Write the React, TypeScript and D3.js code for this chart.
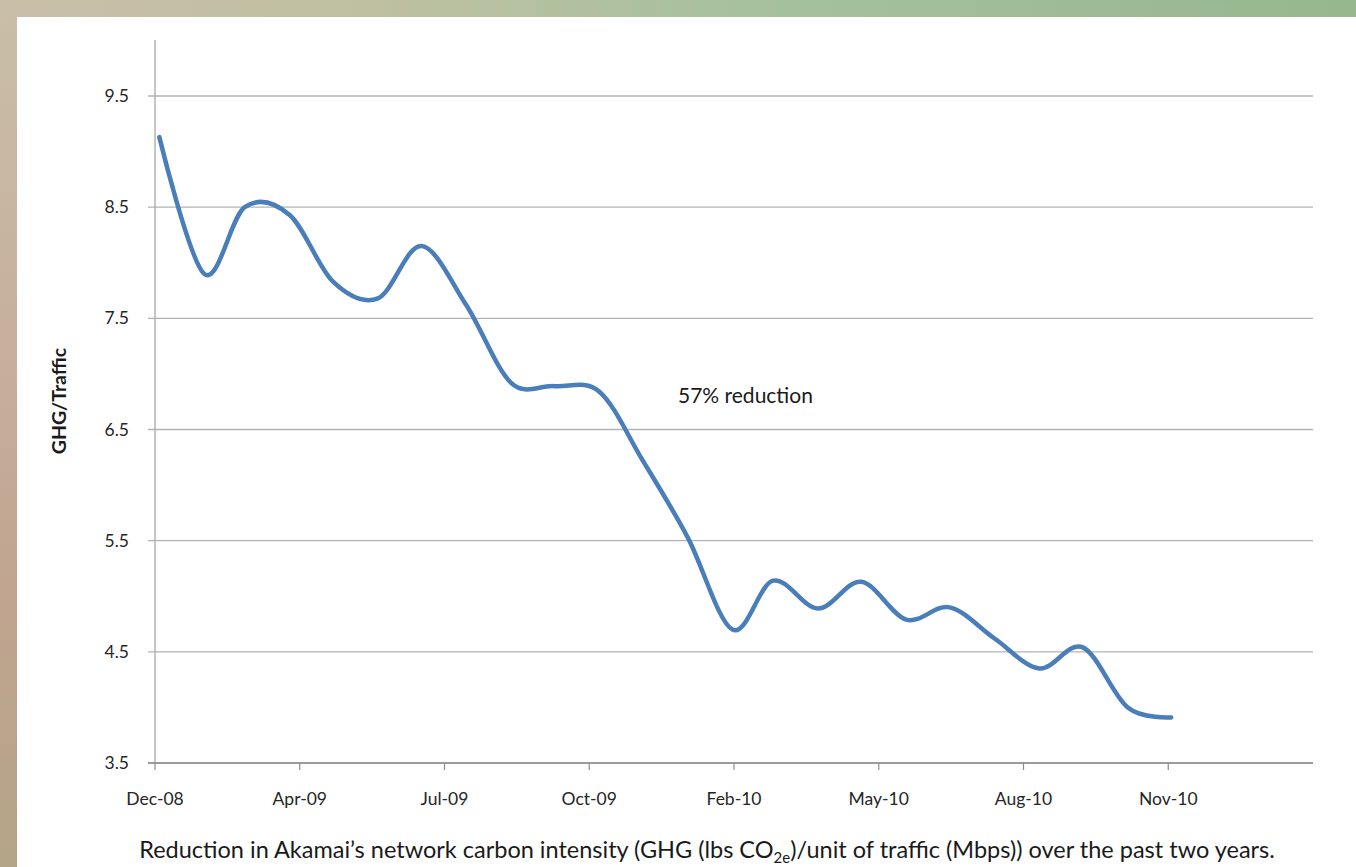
import React from "react";
import * as d3 from "d3";

// ---- data ----
const dates: string[] = [
  "2008-12-31", "2009-01-31", "2009-02-28", "2009-03-31", "2009-04-30", "2009-05-31",
  "2009-06-30", "2009-07-31", "2009-08-31", "2009-09-30", "2009-10-31", "2009-11-30",
  "2009-12-31", "2010-01-31", "2010-02-28", "2010-03-31", "2010-04-30", "2010-05-31",
  "2010-06-30", "2010-07-31", "2010-08-31", "2010-09-30", "2010-10-31", "2010-11-30",
];
const values: number[] = [
  9.13, 7.9, 8.5, 8.43, 7.83, 7.68,
  8.15, 7.62, 6.92, 6.89, 6.84, 6.22,
  5.53, 4.7, 5.14, 4.89, 5.13, 4.79,
  4.9, 4.62, 4.35, 4.54, 4.0, 3.91,
];
const yTicks: number[] = [3.5, 4.5, 5.5, 6.5, 7.5, 8.5, 9.5];
const xTickLabels: string[] = ["Dec-08", "Apr-09", "Jul-09", "Oct-09", "Feb-10", "May-10", "Aug-10", "Nov-10"];
const axisStart = "2008-12-28";
const axisEnd = "2011-03-08";
const tickStepDays = 100;
const annotation = "57% reduction";
const yLabel = "GHG/Traffic";

const W = 1356;
const H = 867;
const FONT = "Lato, 'Open Sans', 'Noto Sans', sans-serif";

export default function App() {
  const parse = d3.utcParse("%Y-%m-%d");
  const t0 = parse(axisStart)!;
  const t1 = parse(axisEnd)!;
  const x = d3.scaleUtc().domain([t0, t1]).range([155, 1313]);
  const y = d3.scaleLinear().domain([3.5, 9.5]).range([763, 96]);

  const pts: [number, number][] = dates.map((d, i) => [x(parse(d)!), y(values[i])]);
  const line = d3.line().curve(d3.curveCardinal.tension(0))(pts) || "";

  const xTicks = xTickLabels.map((lab, i) => ({
    lab,
    t: d3.utcDay.offset(t0, i * tickStepDays),
  }));

  return (
    <svg width={W} height={H} style={{ position: "absolute", left: 0, top: 0 }}>
      <defs>
        <linearGradient id="topband" x1="0" x2="1" y1="0" y2="0">
          <stop offset="0" stopColor="#c9bea8" />
          <stop offset="0.25" stopColor="#c0c0a2" />
          <stop offset="0.6" stopColor="#a3c19b" />
          <stop offset="1" stopColor="#97b78f" />
        </linearGradient>
        <linearGradient id="leftband" x1="0" x2="0" y1="0" y2="1">
          <stop offset="0" stopColor="#c9bea8" />
          <stop offset="0.45" stopColor="#c6ae9a" />
          <stop offset="0.7" stopColor="#c0a48f" />
          <stop offset="1" stopColor="#b4a588" />
        </linearGradient>
      </defs>
      <rect x={0} y={0} width={W} height={H} fill="url(#leftband)" />
      <rect x={0} y={0} width={W} height={17} fill="url(#topband)" />
      <rect x={17} y={17} width={W - 17} height={H - 17} fill="#ffffff" />

      {/* gridlines */}
      {yTicks.map((v) => (
        <line key={"g" + v} x1={148} x2={1313} y1={y(v)} y2={y(v)} stroke="#b3b3b3" strokeWidth={1.3} />
      ))}
      {/* y axis */}
      <line x1={155} x2={155} y1={40} y2={763} stroke="#a8a8a8" strokeWidth={1.3} />
      {/* x axis */}
      <line x1={148} x2={1313} y1={763} y2={763} stroke="#8c8c8c" strokeWidth={1.3} />
      {xTicks.map((tk) => (
        <line key={"t" + tk.lab} x1={x(tk.t)} x2={x(tk.t)} y1={763} y2={770} stroke="#8c8c8c" strokeWidth={1.2} />
      ))}

      {/* y tick labels */}
      {yTicks.map((v) => (
        <text key={"yl" + v} x={129} y={y(v) + 6} textAnchor="end" fontFamily={FONT} fontSize={17.5} fill="#262626">
          {v.toFixed(1)}
        </text>
      ))}
      {/* x tick labels */}
      {xTicks.map((tk) => (
        <text key={"xl" + tk.lab} x={x(tk.t)} y={805} textAnchor="middle" fontFamily={FONT} fontSize={17.5} fill="#262626">
          {tk.lab}
        </text>
      ))}

      {/* y axis title */}
      <text
        transform={`translate(66,401) rotate(-90)`}
        textAnchor="middle"
        fontFamily={FONT}
        fontSize={19.5}
        fontWeight="bold"
        fill="#1a1a1a"
      >
        {yLabel}
      </text>

      {/* series */}
      <path d={line} fill="none" stroke="#4a7ebb" strokeWidth={4.5} strokeLinecap="round" strokeLinejoin="round" />

      {/* annotation */}
      <text x={678} y={403} fontFamily={FONT} fontSize={21} fill="#1a1a1a">
        {annotation}
      </text>

      {/* caption */}
      <text x={707} y={858} textAnchor="middle" fontFamily={FONT} fontSize={23.5} fill="#1a1a1a">
        Reduction in Akamai’s network carbon intensity (GHG (lbs CO
        <tspan dy={5} fontSize={15}>2e</tspan>
        <tspan dy={-5}>)/unit of traffic (Mbps)) over the past two years.</tspan>
      </text>
    </svg>
  );
}
